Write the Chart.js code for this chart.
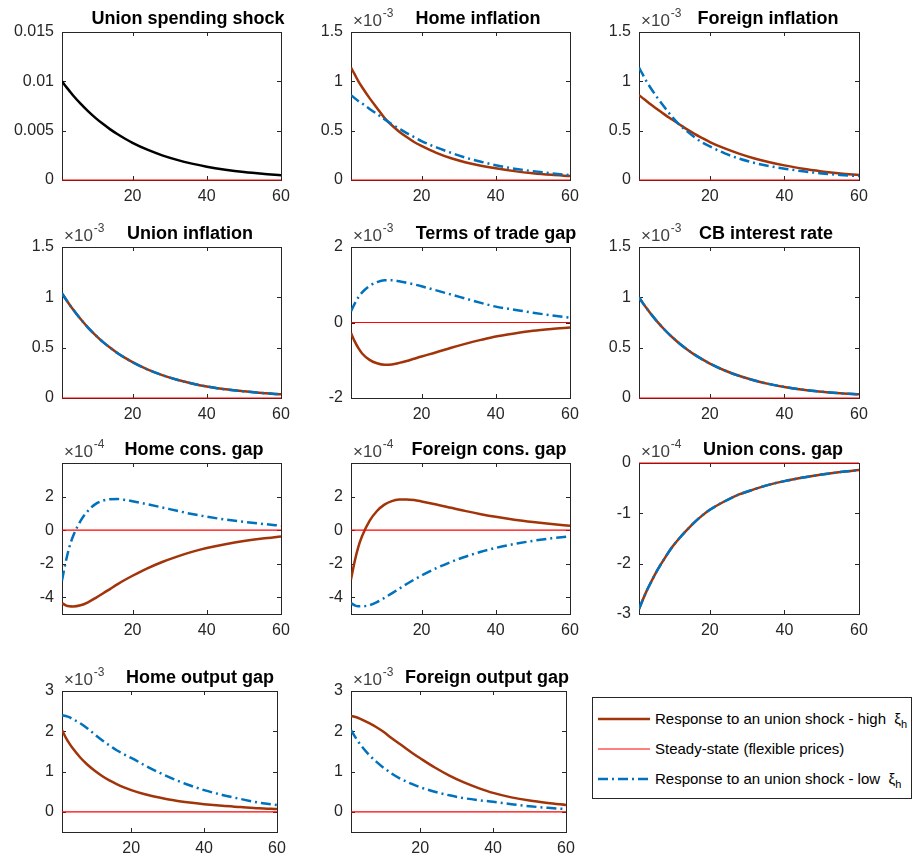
<!DOCTYPE html>
<html>
<head>
<meta charset="utf-8">
<script src="https://cdn.jsdelivr.net/npm/chart.js@4.4.1/dist/chart.umd.min.js"></script>
<style>
  body { margin: 0; background: #fff; }
  #fig { position: relative; width: 915px; height: 860px; overflow: hidden; font-family: "Liberation Sans", Arial, sans-serif; }
  #fig canvas { position: absolute; }
  #legend { position: absolute; left: 592px; top: 697px; width: 320px; height: 102px; border: 1px solid #262626; box-sizing: border-box; background: #fff; }
  #legend .row { position: absolute; left: 5px; height: 20px; font-size: 15px; color: #000; white-space: nowrap; }
  #legend svg { position: absolute; left: 0; top: 5px; }
  #legend span { position: absolute; left: 57px; top: 1px; }
  #legend sub { font-size: 11px; }
</style>
</head>
<body>
<div id="fig">
  <div id="legend">
    <div class="row" style="top:11px"><svg width="52" height="10"><line x1="0" y1="5" x2="52" y2="5" stroke="#A2340A" stroke-width="2.5"/></svg><span>Response to an union shock - high &nbsp;ξ<sub>h</sub></span></div>
    <div class="row" style="top:41px"><svg width="52" height="10"><line x1="0" y1="5" x2="52" y2="5" stroke="#FF0000" stroke-width="1"/></svg><span>Steady-state (flexible prices)</span></div>
    <div class="row" style="top:71px"><svg width="52" height="10"><line x1="0" y1="5" x2="52" y2="5" stroke="#0072BD" stroke-width="2.5" stroke-dasharray="10 4 2 4"/></svg><span>Response to an union shock - low &nbsp;ξ<sub>h</sub></span></div>
  </div>
</div>
<script>
const periods = [1, 2, 3, 4, 6, 8, 10, 12, 14, 16, 18, 20, 24, 28, 32, 36, 40, 45, 50, 55, 60];
const xTicks = [20, 40, 60];
const ssPeriods = [1, 60];
const steadyState = [0, 0];

const shock = [0.01, 0.0095, 0.00903, 0.00857, 0.00774, 0.00698, 0.0063, 0.00569, 0.00513, 0.00463, 0.00418, 0.00377, 0.00307, 0.0025, 0.00204, 0.00166, 0.00135, 0.00105, 0.00081, 0.00063, 0.00049];

// x 10^-3
const homeInflHigh = [1.14, 1.07, 1.00, 0.94, 0.83, 0.73, 0.63, 0.555, 0.49, 0.435, 0.385, 0.345, 0.275, 0.22, 0.178, 0.145, 0.118, 0.09, 0.068, 0.052, 0.04];
const homeInflLow = [0.86, 0.83, 0.80, 0.775, 0.72, 0.67, 0.615, 0.565, 0.52, 0.475, 0.435, 0.395, 0.33, 0.275, 0.225, 0.185, 0.15, 0.115, 0.09, 0.068, 0.05];
const foreignInflHigh = [0.86, 0.83, 0.80, 0.77, 0.715, 0.66, 0.61, 0.56, 0.51, 0.465, 0.425, 0.385, 0.32, 0.265, 0.218, 0.18, 0.148, 0.113, 0.087, 0.066, 0.05];
const foreignInflLow = [1.14, 1.07, 1.00, 0.94, 0.83, 0.73, 0.635, 0.555, 0.49, 0.43, 0.38, 0.34, 0.27, 0.215, 0.173, 0.14, 0.115, 0.088, 0.067, 0.051, 0.04];
const unionInflHigh = [1.04, 0.983, 0.929, 0.878, 0.784, 0.70, 0.625, 0.558, 0.499, 0.445, 0.398, 0.356, 0.284, 0.227, 0.181, 0.144, 0.114, 0.086, 0.066, 0.049, 0.037];
const unionInflLow = [1.04, 0.983, 0.929, 0.878, 0.784, 0.70, 0.625, 0.558, 0.499, 0.445, 0.398, 0.356, 0.284, 0.227, 0.181, 0.144, 0.114, 0.086, 0.066, 0.049, 0.037];
const totHigh = [-0.28, -0.5, -0.68, -0.82, -0.99, -1.08, -1.12, -1.11, -1.07, -1.02, -0.96, -0.9, -0.79, -0.67, -0.56, -0.46, -0.37, -0.29, -0.22, -0.17, -0.13];
const totLow = [0.3, 0.5, 0.67, 0.8, 0.97, 1.07, 1.12, 1.12, 1.09, 1.05, 1.01, 0.96, 0.85, 0.74, 0.63, 0.52, 0.42, 0.34, 0.26, 0.19, 0.13];
const cbRateHigh = [1.0, 0.945, 0.893, 0.844, 0.754, 0.673, 0.601, 0.537, 0.48, 0.428, 0.383, 0.342, 0.273, 0.218, 0.174, 0.138, 0.11, 0.083, 0.063, 0.047, 0.036];
const cbRateLow = [1.0, 0.945, 0.893, 0.844, 0.754, 0.673, 0.601, 0.537, 0.48, 0.428, 0.383, 0.342, 0.273, 0.218, 0.174, 0.138, 0.11, 0.083, 0.063, 0.047, 0.036];

// x 10^-4
const homeConsHigh = [-4.35, -4.48, -4.54, -4.55, -4.48, -4.3, -4.05, -3.78, -3.5, -3.22, -2.96, -2.72, -2.28, -1.9, -1.58, -1.3, -1.07, -0.84, -0.65, -0.5, -0.38];
const homeConsLow = [-3.0, -1.9, -1.0, -0.35, 0.55, 1.15, 1.55, 1.76, 1.84, 1.85, 1.8, 1.72, 1.54, 1.35, 1.15, 0.96, 0.8, 0.63, 0.49, 0.37, 0.26];
const foreignConsHigh = [-2.95, -1.85, -0.98, -0.35, 0.55, 1.14, 1.52, 1.73, 1.82, 1.83, 1.79, 1.71, 1.53, 1.33, 1.13, 0.95, 0.79, 0.62, 0.48, 0.36, 0.26];
const foreignConsLow = [-4.35, -4.48, -4.54, -4.54, -4.47, -4.29, -4.04, -3.77, -3.49, -3.21, -2.95, -2.71, -2.27, -1.89, -1.57, -1.29, -1.06, -0.83, -0.64, -0.49, -0.37];
const unionConsHigh = [-2.9, -2.72, -2.55, -2.4, -2.12, -1.88, -1.66, -1.48, -1.32, -1.17, -1.04, -0.93, -0.76, -0.62, -0.52, -0.43, -0.36, -0.29, -0.23, -0.18, -0.14];
const unionConsLow = [-2.9, -2.72, -2.55, -2.4, -2.12, -1.88, -1.66, -1.48, -1.32, -1.17, -1.04, -0.93, -0.76, -0.62, -0.52, -0.43, -0.36, -0.29, -0.23, -0.18, -0.14];

// x 10^-3
const homeOutHigh = [2.03, 1.85, 1.7, 1.57, 1.35, 1.17, 1.02, 0.89, 0.78, 0.69, 0.61, 0.54, 0.43, 0.35, 0.28, 0.23, 0.19, 0.15, 0.12, 0.09, 0.07];
const homeOutLow = [2.4, 2.38, 2.35, 2.3, 2.2, 2.07, 1.92, 1.78, 1.65, 1.53, 1.43, 1.34, 1.14, 0.96, 0.8, 0.66, 0.54, 0.42, 0.32, 0.23, 0.17];
const foreignOutHigh = [2.38, 2.36, 2.33, 2.29, 2.2, 2.1, 1.98, 1.84, 1.71, 1.58, 1.45, 1.33, 1.1, 0.9, 0.73, 0.59, 0.47, 0.36, 0.28, 0.22, 0.17];
const foreignOutLow = [2.03, 1.88, 1.74, 1.62, 1.41, 1.24, 1.09, 0.96, 0.85, 0.76, 0.68, 0.61, 0.5, 0.41, 0.34, 0.29, 0.25, 0.19, 0.14, 0.1, 0.07];

const yTicksShock = [0, 0.005, 0.01, 0.015];
const yTicksInfl = [0, 0.5, 1, 1.5];
const yTicksTot = [-2, 0, 2];
const yTicksCons = [-4, -2, 0, 2];
const yTicksUnionCons = [-3, -2, -1, 0];
const yTicksOut = [0, 1, 2, 3];

const BROWN = '#A2340A', BLUE = '#0072BD', RED = '#FF0000', AXIS = '#262626';
const FONT = '"Liberation Sans", Arial, sans-serif';

// plot boxes in page pixels: [left, top, right, bottom]
const panels = [
  { title: 'Union spending shock', tx: 188, box: [62, 32, 281, 180], y: [0, 0.015], yt: yTicksShock, exp: null, single: shock },
  { title: 'Home inflation', tx: 478, box: [351, 32, 570, 180], y: [0, 1.5], yt: yTicksInfl, exp: '-3', high: homeInflHigh, low: homeInflLow },
  { title: 'Foreign inflation', tx: 768, box: [639, 32, 859, 180], y: [0, 1.5], yt: yTicksInfl, exp: '-3', high: foreignInflHigh, low: foreignInflLow },
  { title: 'Union inflation', tx: 190, box: [62, 247, 281, 398], y: [0, 1.5], yt: yTicksInfl, exp: '-3', high: unionInflHigh, low: unionInflLow },
  { title: 'Terms of trade gap', tx: 496, box: [351, 247, 570, 398], y: [-2, 2], yt: yTicksTot, exp: '-3', high: totHigh, low: totLow },
  { title: 'CB interest rate', tx: 766, box: [639, 247, 859, 398], y: [0, 1.5], yt: yTicksInfl, exp: '-3', high: cbRateHigh, low: cbRateLow },
  { title: 'Home cons. gap', tx: 194, box: [62, 463, 281, 614], y: [-5, 4], yt: yTicksCons, exp: '-4', high: homeConsHigh, low: homeConsLow },
  { title: 'Foreign cons. gap', tx: 489, box: [351, 463, 570, 614], y: [-5, 4], yt: yTicksCons, exp: '-4', high: foreignConsHigh, low: foreignConsLow },
  { title: 'Union cons. gap', tx: 773, box: [639, 463, 859, 614], y: [-3, 0], yt: yTicksUnionCons, exp: '-4', high: unionConsHigh, low: unionConsLow },
  { title: 'Home output gap', tx: 200, box: [62, 691, 277, 832], y: [-0.5, 3], yt: yTicksOut, exp: '-3', high: homeOutHigh, low: homeOutLow },
  { title: 'Foreign output gap', tx: 487, box: [351, 691, 566, 832], y: [-0.5, 3], yt: yTicksOut, exp: '-3', high: foreignOutHigh, low: foreignOutLow }
];

const PAD_L = 60, PAD_T = 36, PAD_R = 20, PAD_B = 35;

function line(values, color, width, dash, order) {
  return {
    data: periods.map((p, i) => ({ x: p, y: values[i] })),
    borderColor: color, borderWidth: width, borderDash: dash,
    pointRadius: 0, tension: 0.4, cubicInterpolationMode: 'monotone', order: order
  };
}

const framePlugin = {
  id: 'frame',
  beforeDatasetsDraw(chart, args, opts) {
    const ctx = chart.ctx, a = chart.chartArea, sx = chart.scales.x, sy = chart.scales.y;
    ctx.save();
    ctx.strokeStyle = AXIS;
    ctx.lineWidth = 1;
    ctx.strokeRect(Math.round(a.left) + 0.5, Math.round(a.top) + 0.5, Math.round(a.right - a.left), Math.round(a.bottom - a.top));
    ctx.beginPath();
    sx.ticks.forEach(t => {
      const px = Math.round(sx.getPixelForValue(t.value)) + 0.5;
      ctx.moveTo(px, a.bottom); ctx.lineTo(px, a.bottom - 4);
      ctx.moveTo(px, a.top); ctx.lineTo(px, a.top + 4);
    });
    sy.ticks.forEach(t => {
      const py = Math.round(sy.getPixelForValue(t.value)) + 0.5;
      ctx.moveTo(a.left, py); ctx.lineTo(a.left + 4, py);
      ctx.moveTo(a.right, py); ctx.lineTo(a.right - 4, py);
    });
    ctx.stroke();
    ctx.restore();
  },
  afterDraw(chart, args, opts) {
    const ctx = chart.ctx, a = chart.chartArea;
    ctx.save();
    ctx.fillStyle = '#000';
    ctx.font = 'bold 18px ' + FONT;
    ctx.textAlign = 'center';
    ctx.textBaseline = 'alphabetic';
    ctx.fillText(opts.title, opts.titleX, a.top - 8);
    if (opts.exp) {
      ctx.fillStyle = '#404040';
      ctx.textAlign = 'left';
      ctx.font = '17px ' + FONT;
      const base = a.top - 6;
      ctx.fillText('\u00d710', a.left + 2, base);
      const w = ctx.measureText('\u00d710').width;
      ctx.font = '12px ' + FONT;
      ctx.fillText(opts.exp, a.left + 2 + w + 1, base - 9);
    }
    ctx.restore();
  }
};

const fig = document.getElementById('fig');

panels.forEach(p => {
  const [l, t, r, b] = p.box;
  const canvas = document.createElement('canvas');
  const w = r - l + PAD_L + PAD_R, h = b - t + PAD_T + PAD_B;
  canvas.width = w; canvas.height = h;
  canvas.style.left = (l - PAD_L) + 'px';
  canvas.style.top = (t - PAD_T) + 'px';
  canvas.style.width = w + 'px';
  canvas.style.height = h + 'px';
  fig.insertBefore(canvas, fig.firstChild);

  const ss = {
    data: ssPeriods.map((x, i) => ({ x: x, y: steadyState[i] })),
    borderColor: RED, borderWidth: 1.2, pointRadius: 0, order: 1, clip: 2
  };
  const datasets = p.single
    ? [line(p.single, '#000', 2.5, [], 2), ss]
    : [line(p.low, BLUE, 2.5, [10, 4, 2, 4], 0), ss, line(p.high, BROWN, 2.5, [], 2)];

  const tickFont = { family: FONT, size: 16 };
  new Chart(canvas, {
    type: 'line',
    data: { datasets: datasets },
    options: {
      responsive: false,
      animation: false,
      layout: { padding: { left: 0, top: PAD_T, right: PAD_R, bottom: 0 } },
      plugins: {
        legend: { display: false },
        tooltip: { enabled: false },
        frame: { title: p.title, titleX: p.tx - (l - PAD_L), exp: p.exp }
      },
      scales: {
        x: {
          type: 'linear', min: 1, max: 60,
          afterBuildTicks: s => { s.ticks = xTicks.map(v => ({ value: v })); },
          afterFit: s => { s.height = PAD_B; },
          grid: { display: false, drawTicks: false },
          border: { display: false },
          ticks: { font: tickFont, color: AXIS, padding: 7, maxRotation: 0, autoSkip: false, callback: v => String(v) }
        },
        y: {
          type: 'linear', min: p.y[0], max: p.y[1],
          afterBuildTicks: s => { s.ticks = p.yt.map(v => ({ value: v })); },
          afterFit: s => { s.width = PAD_L; },
          grid: { display: false, drawTicks: false },
          border: { display: false },
          ticks: { font: tickFont, color: AXIS, padding: 8, autoSkip: false, callback: v => String(v) }
        }
      }
    },
    plugins: [framePlugin]
  });
});
</script>
</body>
</html>
